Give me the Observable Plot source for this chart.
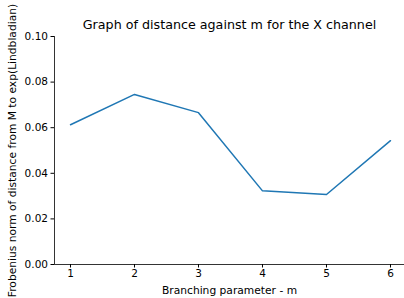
<!DOCTYPE html>
<html><head><meta charset="utf-8">
<script src="https://cdn.jsdelivr.net/npm/d3@7"></script>
<script src="https://cdn.jsdelivr.net/npm/@observablehq/plot@0.6"></script>
<style>body{margin:0;background:#fff;} svg{font-family:"DejaVu Sans",sans-serif;}</style>
</head><body><div id="chart"></div>
<script>
const mValues = [1, 2, 3, 4, 5, 6];
const distances = [0.0613, 0.0746, 0.0666, 0.0323, 0.0307, 0.0543];
const yTicks = [0, 0.02, 0.04, 0.06, 0.08, 0.10];
const xTicks = [1, 2, 3, 4, 5, 6];
const titleText = "Graph of distance against m for the X channel";
const xLabel = "Branching parameter - m";
const yLabel = "Frobenius norm of distance from M to exp(Lindbladian)";

const data = mValues.map((m, i) => ({m, d: distances[i]}));

const chart = Plot.plot({
  width: 404, height: 298,
  marginLeft: 54, marginRight: 0, marginTop: 36, marginBottom: 34,
  style: {fontFamily: "DejaVu Sans, sans-serif", fontSize: "10.5px", color: "#000", background: "#fff"},
  x: {domain: [0.75, 6.219], ticks: xTicks},
  y: {domain: [0, 0.10], ticks: yTicks},
  marks: [
    Plot.axisX({ticks: xTicks, tickFormat: d3.format("d"), tickSize: 3.5, tickPadding: 2, fontSize: 10.5,
      label: null}),
    Plot.axisY({ticks: yTicks, tickFormat: d3.format(".2f"), tickSize: 3.5, tickPadding: 3, fontSize: 10.5,
      label: null}),
    Plot.axisX({ticks: [], tickSize: 0, label: xLabel, labelAnchor: "center", labelArrow: "none", labelOffset: 29, fontSize: 10.7}),
    Plot.axisY({ticks: [], tickSize: 0, label: yLabel, labelAnchor: "center", labelArrow: "none", labelOffset: 46, fontSize: 10.7}),
    Plot.ruleY([0], {stroke: "#000", strokeWidth: 0.8}),
    Plot.ruleX([0.75], {stroke: "#000", strokeWidth: 0.8}),
    Plot.line(data, {x: "m", y: "d", stroke: "#1f77b4", strokeWidth: 1.5}),
    Plot.text([titleText], {frameAnchor: "top", dy: -17, fontSize: 12.7, text: d => d, fill: "#000"})
  ]
});
document.getElementById("chart").appendChild(chart);
</script>
</body></html>
